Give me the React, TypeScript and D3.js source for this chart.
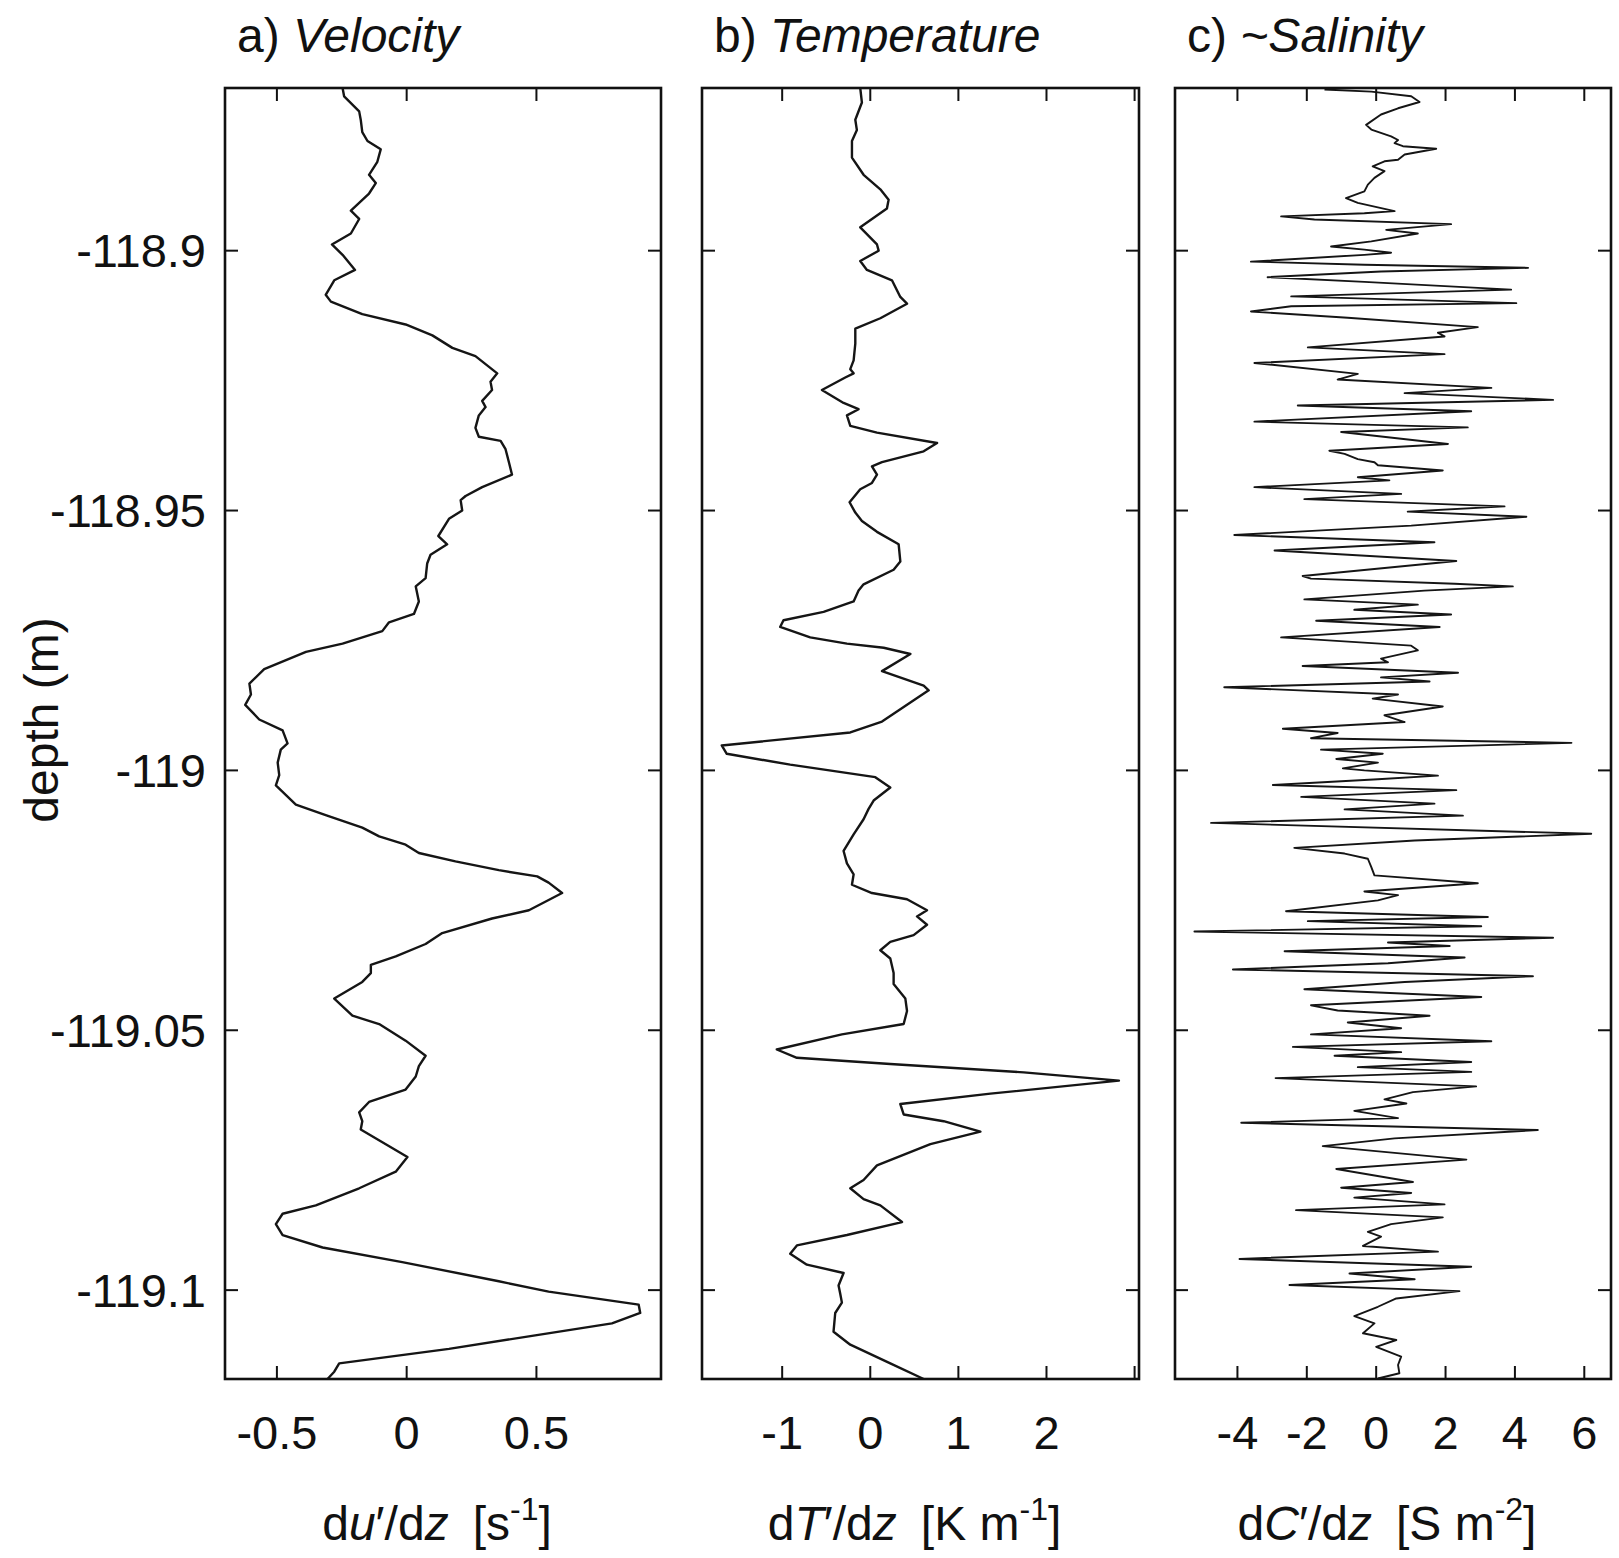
import React from "react";
import * as d3 from "d3";

// depth (m), value pairs
const velocityProfile: [number, number][] = [
  [-118.8687, -0.247], [-118.8703, -0.241], [-118.8732, -0.183], [-118.8748, -0.177],
  [-118.8772, -0.171], [-118.8789, -0.151], [-118.8805, -0.1], [-118.8829, -0.113],
  [-118.8854, -0.145], [-118.887, -0.119], [-118.889, -0.145], [-118.8923, -0.215],
  [-118.8939, -0.183], [-118.8967, -0.215], [-118.8988, -0.288], [-118.9008, -0.247],
  [-118.9037, -0.199], [-118.9057, -0.279], [-118.9085, -0.312], [-118.9098, -0.292],
  [-118.9122, -0.171], [-118.9142, -0.004], [-118.9163, 0.099], [-118.9187, 0.176],
  [-118.9203, 0.265], [-118.9236, 0.349], [-118.9252, 0.323], [-118.9268, 0.329],
  [-118.9289, 0.291], [-118.9301, 0.304], [-118.9317, 0.278], [-118.9341, 0.265],
  [-118.9358, 0.278], [-118.9366, 0.362], [-118.9382, 0.381], [-118.9407, 0.394],
  [-118.9431, 0.406], [-118.9455, 0.291], [-118.9472, 0.227], [-118.948, 0.208],
  [-118.95, 0.214], [-118.9516, 0.163], [-118.9549, 0.122], [-118.9565, 0.156],
  [-118.9585, 0.092], [-118.9602, 0.079], [-118.963, 0.073], [-118.9646, 0.035],
  [-118.9675, 0.047], [-118.9699, 0.028], [-118.9715, -0.068], [-118.9732, -0.094],
  [-118.9756, -0.247], [-118.9772, -0.388], [-118.9805, -0.549], [-118.9833, -0.606],
  [-118.9854, -0.6], [-118.9874, -0.622], [-118.9902, -0.568], [-118.9923, -0.478],
  [-118.9948, -0.459], [-118.996, -0.485], [-118.9985, -0.497], [-119.0009, -0.491],
  [-119.0029, -0.504], [-119.0066, -0.427], [-119.0086, -0.312], [-119.011, -0.171],
  [-119.0127, -0.106], [-119.0143, -0.004], [-119.0159, 0.047], [-119.0175, 0.188],
  [-119.0192, 0.355], [-119.0204, 0.503], [-119.0216, 0.547], [-119.0236, 0.599],
  [-119.0269, 0.471], [-119.0285, 0.329], [-119.0313, 0.137], [-119.0334, 0.073],
  [-119.0358, -0.042], [-119.0374, -0.138], [-119.039, -0.138], [-119.0407, -0.171],
  [-119.0439, -0.279], [-119.0472, -0.209], [-119.0488, -0.106], [-119.052, -0.004],
  [-119.0549, 0.073], [-119.0569, 0.047], [-119.0589, 0.035], [-119.0614, -0.004],
  [-119.0638, -0.145], [-119.0658, -0.183], [-119.0675, -0.171], [-119.0691, -0.177],
  [-119.0744, 0.003], [-119.0772, -0.042], [-119.0804, -0.183], [-119.0837, -0.35],
  [-119.0853, -0.478], [-119.0873, -0.504], [-119.0894, -0.478], [-119.0918, -0.324],
  [-119.0946, -0.017], [-119.0983, 0.355], [-119.1003, 0.547], [-119.1028, 0.894],
  [-119.1044, 0.9], [-119.1064, 0.791], [-119.1088, 0.483], [-119.1113, 0.163],
  [-119.1141, -0.26], [-119.1157, -0.279], [-119.1171, -0.305],
];

const temperatureProfile: [number, number][] = [
  [-118.8687, -0.114], [-118.8715, -0.095], [-118.8748, -0.17], [-118.8768, -0.152],
  [-118.8789, -0.208], [-118.8821, -0.208], [-118.8854, -0.076], [-118.8882, 0.114],
  [-118.8902, 0.208], [-118.8919, 0.189], [-118.8955, -0.114], [-118.8988, 0.076],
  [-118.9, 0.095], [-118.902, -0.114], [-118.9037, -0.038], [-118.9057, 0.246],
  [-118.9089, 0.341], [-118.9102, 0.417], [-118.913, 0.114], [-118.915, -0.17],
  [-118.9179, -0.17], [-118.9211, -0.189], [-118.9228, -0.227], [-118.9236, -0.189],
  [-118.9244, -0.284], [-118.9268, -0.549], [-118.9293, -0.303], [-118.9305, -0.133],
  [-118.9317, -0.265], [-118.9337, -0.227], [-118.935, 0.076], [-118.937, 0.758],
  [-118.9386, 0.606], [-118.9407, 0.133], [-118.9415, 0.019], [-118.9431, 0.076],
  [-118.9447, 0.019], [-118.9459, -0.114], [-118.9484, -0.235], [-118.9504, -0.17],
  [-118.952, -0.095], [-118.9541, 0.076], [-118.9565, 0.322], [-118.9598, 0.341],
  [-118.9614, 0.265], [-118.9642, -0.076], [-118.9654, -0.133], [-118.9675, -0.189],
  [-118.9695, -0.53], [-118.9711, -0.985], [-118.9724, -1.023], [-118.9744, -0.682],
  [-118.9756, -0.265], [-118.9764, 0.152], [-118.9776, 0.455], [-118.9809, 0.133],
  [-118.9837, 0.606], [-118.9846, 0.663], [-118.9878, 0.379], [-118.9906, 0.133],
  [-118.9927, -0.227], [-118.9952, -1.686], [-118.9968, -1.629], [-118.9989, -0.909],
  [-119.0013, 0.057], [-119.0033, 0.227], [-119.0058, 0.038], [-119.0074, -0.019],
  [-119.0094, -0.076], [-119.0123, -0.189], [-119.0155, -0.303], [-119.0179, -0.265],
  [-119.02, -0.189], [-119.022, -0.208], [-119.0236, 0.019], [-119.0248, 0.417],
  [-119.0269, 0.644], [-119.0281, 0.53], [-119.0297, 0.644], [-119.0317, 0.492],
  [-119.033, 0.227], [-119.0346, 0.114], [-119.0362, 0.227], [-119.039, 0.265],
  [-119.0411, 0.265], [-119.0439, 0.398], [-119.0463, 0.417], [-119.0488, 0.379],
  [-119.0508, -0.322], [-119.0537, -1.061], [-119.0553, -0.833], [-119.0565, 0.227],
  [-119.0581, 1.742], [-119.0597, 2.822], [-119.0622, 1.364], [-119.0642, 0.341],
  [-119.0662, 0.379], [-119.0675, 0.833], [-119.0695, 1.25], [-119.0719, 0.682],
  [-119.076, 0.076], [-119.0788, -0.076], [-119.0804, -0.227], [-119.0825, -0.076],
  [-119.0837, 0.114], [-119.0869, 0.36], [-119.0894, -0.265], [-119.0914, -0.833],
  [-119.093, -0.909], [-119.0951, -0.72], [-119.0967, -0.303], [-119.0991, -0.36],
  [-119.1007, -0.341], [-119.1024, -0.322], [-119.1044, -0.398], [-119.108, -0.417],
  [-119.1105, -0.227], [-119.1141, 0.227], [-119.1171, 0.606],
];

const salinityProfile: [number, number][] = [
  [-118.869, -1.49], [-118.8694, -0.14], [-118.8703, 1.01], [-118.8714, 1.25],
  [-118.8726, 0.63], [-118.8738, 0.14], [-118.8758, -0.29], [-118.8767, -0.14],
  [-118.878, 0.43], [-118.8787, 0.63], [-118.8793, 0.53], [-118.8799, 0.77],
  [-118.8804, 1.73], [-118.8815, 0.82], [-118.8825, 0.63], [-118.8828, 0.24],
  [-118.8838, -0.1], [-118.8847, 0.24], [-118.886, -0.05], [-118.8873, -0.24],
  [-118.8886, -0.34], [-118.8899, -0.87], [-118.8908, -0.53], [-118.8924, 0.53],
  [-118.8928, -0.34], [-118.8934, -2.74], [-118.894, -1.78], [-118.8949, 2.16],
  [-118.896, 0.29], [-118.8967, 1.2], [-118.8982, -0.14], [-118.8992, -1.3],
  [-118.8998, -0.34], [-118.9004, 0.43], [-118.9008, -0.34], [-118.9021, -3.61],
  [-118.9027, -0.34], [-118.9033, 4.38], [-118.904, 0.14], [-118.9051, -3.13],
  [-118.906, -0.34], [-118.9075, 3.89], [-118.9088, -2.45], [-118.9101, 4.04],
  [-118.9107, -2.45], [-118.9117, -3.61], [-118.9129, -0.82], [-118.9147, 2.93],
  [-118.9158, 1.78], [-118.9165, 1.97], [-118.9186, -1.97], [-118.9199, 1.97],
  [-118.9216, -3.51], [-118.9237, -0.53], [-118.9248, -1.11], [-118.9264, 3.32],
  [-118.9274, 0.82], [-118.9287, 5.1], [-118.9298, -2.26], [-118.9309, 2.74],
  [-118.9329, -3.51], [-118.934, 2.64], [-118.9349, -1.01], [-118.9372, 2.07],
  [-118.9385, -1.35], [-118.9391, -0.91], [-118.9401, -0.53], [-118.9407, -0.05],
  [-118.9413, 0.05], [-118.9423, 1.92], [-118.9436, -0.53], [-118.9442, 0.38],
  [-118.9455, -3.51], [-118.9468, 0.72], [-118.9478, -2.07], [-118.9492, 3.7],
  [-118.9502, 0.91], [-118.9512, 4.33], [-118.9529, 1.01], [-118.9547, -4.09],
  [-118.9561, 1.68], [-118.9577, -2.93], [-118.9597, 2.31], [-118.9626, -2.12],
  [-118.9631, -1.88], [-118.9641, 2.26], [-118.9646, 3.94], [-118.9654, 1.39],
  [-118.9671, -2.07], [-118.9681, 1.2], [-118.9691, -0.63], [-118.97, 2.16],
  [-118.9712, -1.73], [-118.9724, 1.83], [-118.9744, -2.74], [-118.976, 1.01],
  [-118.9769, 1.2], [-118.9785, 0.14], [-118.9792, 0.34], [-118.9799, -2.12],
  [-118.9812, 2.36], [-118.9821, 0.14], [-118.9829, 1.54], [-118.984, -4.38],
  [-118.9854, 0.63], [-118.9862, -0.1], [-118.9877, 1.92], [-118.9894, 0.24],
  [-118.9907, 0.82], [-118.992, -2.69], [-118.9928, -1.11], [-118.9938, -1.88],
  [-118.9947, 5.63], [-118.996, -1.59], [-118.9968, 0.19], [-118.9978, -1.15],
  [-118.9985, 0.05], [-118.9996, -0.96], [-119.0, -0.34], [-119.001, 1.78],
  [-119.0017, 0.05], [-119.0028, -2.98], [-119.0038, 2.31], [-119.0051, -2.16],
  [-119.0064, 1.68], [-119.0075, -0.91], [-119.0087, 2.5], [-119.0101, -4.76],
  [-119.0122, 6.2], [-119.0135, 1.11], [-119.0149, -2.36], [-119.016, -0.91],
  [-119.017, -0.24], [-119.0186, -0.14], [-119.0202, -0.05], [-119.0217, 2.93],
  [-119.0233, -0.34], [-119.024, 0.63], [-119.025, 0.05], [-119.0271, -2.6],
  [-119.0282, 3.22], [-119.029, -1.97], [-119.03, 3.03], [-119.031, -5.24],
  [-119.0322, 5.1], [-119.0331, 0.34], [-119.0338, 2.12], [-119.0348, -2.64],
  [-119.036, 2.55], [-119.0371, 0.34], [-119.0383, -4.13], [-119.0396, 4.52],
  [-119.0407, 0.82], [-119.0421, -2.07], [-119.0436, 3.03], [-119.0452, -1.88],
  [-119.0462, -1.11], [-119.0472, 1.54], [-119.0485, -0.82], [-119.0496, 0.72],
  [-119.0508, -1.88], [-119.0521, 3.32], [-119.0532, -2.4], [-119.0542, 0.72],
  [-119.0549, -1.2], [-119.0561, 2.74], [-119.0571, -0.53], [-119.058, 2.74],
  [-119.0592, -2.9], [-119.0608, 2.88], [-119.0619, 1.06], [-119.0633, 0.24],
  [-119.0641, 0.87], [-119.0655, -0.63], [-119.0669, 0.63], [-119.0678, -3.89],
  [-119.0692, 4.66], [-119.0708, 0.53], [-119.0723, -1.54], [-119.0749, 2.6],
  [-119.0767, -1.15], [-119.0792, 1.06], [-119.0803, -1.01], [-119.0813, 1.01],
  [-119.0822, -0.63], [-119.0835, 1.97], [-119.0846, -2.31], [-119.086, 1.92],
  [-119.0873, 0.43], [-119.0888, -0.24], [-119.0897, 0.14], [-119.0915, -0.38],
  [-119.0926, 1.78], [-119.094, -3.94], [-119.0955, 2.74], [-119.0968, -0.77],
  [-119.0979, 1.11], [-119.099, -2.5], [-119.1002, 2.4], [-119.1016, 0.58],
  [-119.1032, 0.05], [-119.105, -0.63], [-119.1064, -0.05], [-119.1083, -0.38],
  [-119.1096, 0.58], [-119.1109, 0.0], [-119.1128, 0.72], [-119.1144, 0.63],
  [-119.116, 0.67], [-119.117, 0.05],
];

const depthDomain: [number, number] = [-118.8687, -119.1171];
const depthTicks = [-118.9, -118.95, -119, -119.05, -119.1];
const depthTickLabels = ["-118.9", "-118.95", "-119", "-119.05", "-119.1"];

const velocityDomain: [number, number] = [-0.7, 0.98];
const velocityTicks = [-0.5, 0, 0.5];
const velocityTickLabels = ["-0.5", "0", "0.5"];

const temperatureDomain: [number, number] = [-1.91, 3.05];
const temperatureTicks = [-1, 0, 1, 2, 3];
const temperatureTickLabels = ["-1", "0", "1", "2", ""];

const salinityDomain: [number, number] = [-5.8, 6.77];
const salinityTicks = [-4, -2, 0, 2, 4, 6];
const salinityTickLabels = ["-4", "-2", "0", "2", "4", "6"];

const FONT = "'Liberation Sans', Arial, Helvetica, sans-serif";
const TOP = 88;
const BOTTOM = 1379;
const TICK = 13;

type PanelProps = {
  x0: number;
  x1: number;
  domain: [number, number];
  ticks: number[];
  tickLabels: string[];
  data: [number, number][];
  lineWidth: number;
  showDepthLabels: boolean;
  prefix: string;
  title: string;
  axisLabel: React.ReactNode;
};

function Panel(p: PanelProps) {
  const x = d3.scaleLinear().domain(p.domain).range([p.x0, p.x1]);
  const y = d3.scaleLinear().domain(depthDomain).range([TOP, BOTTOM]);
  const line = d3
    .line<[number, number]>()
    .x((d) => x(d[1]))
    .y((d) => y(d[0]));
  const cx = (p.x0 + p.x1) / 2;
  return (
    <g>
      <path d={line(p.data) || ""} fill="none" stroke="#151515" strokeWidth={p.lineWidth} strokeLinejoin="round" />
      {p.ticks.map((t, i) => (
        <g key={"xt" + i}>
          <line x1={x(t)} x2={x(t)} y1={BOTTOM} y2={BOTTOM - TICK} stroke="#111" strokeWidth={2} />
          <line x1={x(t)} x2={x(t)} y1={TOP} y2={TOP + TICK} stroke="#111" strokeWidth={2} />
          {p.tickLabels[i] !== "" && (
            <text x={x(t)} y={1433} dy="0.35em" textAnchor="middle" fontSize={47} fontFamily={FONT} fill="#111">
              {p.tickLabels[i]}
            </text>
          )}
        </g>
      ))}
      {depthTicks.map((t, i) => (
        <g key={"yt" + i}>
          <line x1={p.x0} x2={p.x0 + TICK} y1={y(t)} y2={y(t)} stroke="#111" strokeWidth={2} />
          <line x1={p.x1} x2={p.x1 - TICK} y1={y(t)} y2={y(t)} stroke="#111" strokeWidth={2} />
          {p.showDepthLabels && (
            <text x={p.x0 - 19} y={y(t)} dy="0.35em" textAnchor="end" fontSize={47} fontFamily={FONT} fill="#111">
              {depthTickLabels[i]}
            </text>
          )}
        </g>
      ))}
      <rect x={p.x0} y={TOP} width={p.x1 - p.x0} height={BOTTOM - TOP} fill="none" stroke="#111" strokeWidth={2.6} />
      <text x={p.x0 + 12} y={52} fontSize={48} fontFamily={FONT} fill="#111">
        {p.prefix} <tspan fontStyle="italic">{p.title}</tspan>
      </text>
      <text x={cx - 6} y={1540} textAnchor="middle" fontSize={48} fontFamily={FONT} fill="#111">
        {p.axisLabel}
      </text>
    </g>
  );
}

function AxisLabel({ v, unit, exp }: { v: string; unit: string; exp: string }) {
  return (
    <>
      d<tspan fontStyle="italic">{v}</tspan>′/d<tspan fontStyle="italic">z</tspan>
      <tspan dx={24}>[{unit}</tspan>
      <tspan fontSize={32} dy={-20}>{exp}</tspan>
      <tspan dy={20}>]</tspan>
    </>
  );
}

export default function App() {
  return (
    <svg
      width={1619}
      height={1558}
      style={{ position: "absolute", left: 0, top: 0, background: "#fff" }}
    >
      <rect width={1619} height={1558} fill="#fff" />
      <Panel
        x0={225}
        x1={661}
        domain={velocityDomain}
        ticks={velocityTicks}
        tickLabels={velocityTickLabels}
        data={velocityProfile}
        lineWidth={2.4}
        showDepthLabels={true}
        prefix="a)"
        title="Velocity"
        axisLabel={<AxisLabel v="u" unit="s" exp="-1" />}
      />
      <Panel
        x0={702}
        x1={1139}
        domain={temperatureDomain}
        ticks={temperatureTicks}
        tickLabels={temperatureTickLabels}
        data={temperatureProfile}
        lineWidth={2.4}
        showDepthLabels={false}
        prefix="b)"
        title="Temperature"
        axisLabel={<AxisLabel v="T" unit="K m" exp="-1" />}
      />
      <Panel
        x0={1175}
        x1={1611}
        domain={salinityDomain}
        ticks={salinityTicks}
        tickLabels={salinityTickLabels}
        data={salinityProfile}
        lineWidth={1.9}
        showDepthLabels={false}
        prefix="c)"
        title="~Salinity"
        axisLabel={<AxisLabel v="C" unit="S m" exp="-2" />}
      />
      <text
        transform="translate(58,720) rotate(-90)"
        textAnchor="middle"
        fontSize={48}
        fontFamily={FONT}
        fill="#111"
      >
        depth (m)
      </text>
    </svg>
  );
}
